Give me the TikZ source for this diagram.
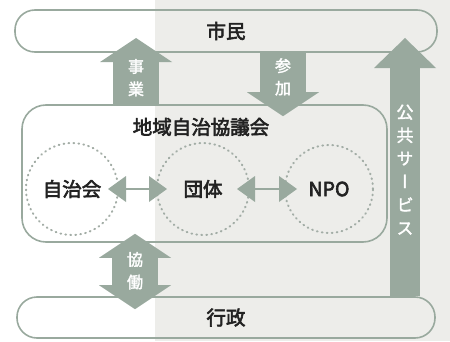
\documentclass[tikz,border=0pt]{standalone}
\usepackage{fontspec}
\newfontfamily\jp[FakeBold=3]{Noto Sans CJK JP}
\newfontfamily\jpv[RawFeature=+vert, FakeBold=2]{Noto Sans CJK JP}
\usetikzlibrary{arrows.meta}
\definecolor{sagegreen}{HTML}{99A99E}
\definecolor{paper}{HTML}{EDEDEA}
\definecolor{dotgrey}{HTML}{A3ADA6}
\definecolor{inkblack}{HTML}{222222}

\begin{document}
\begin{tikzpicture}[x=1pt, y=1pt,
every node/.style={font=\jp\fontsize{19.5}{24}\selectfont, text=inkblack, inner sep=0pt},
pill/.style={draw=sagegreen, line width=1.6pt, rounded corners=20pt},
ring/.style={draw=dotgrey, circle, line width=2pt, dash pattern=on 0.8pt off 4.2pt, line cap=round, minimum size=92pt},
fat/.style={draw=sagegreen, line width=46pt, ->, >={Triangle[length=24pt, width=72pt, line width=0pt]}},
fatboth/.style={fat, <->},
slim/.style={draw=sagegreen, line width=30pt, ->, >={Triangle[length=30pt, width=62pt, line width=0pt]}},
dbl/.style={draw=sagegreen, line width=2.5pt, <->, >={Triangle[length=18pt, width=26pt, line width=0pt]}},
vtext/.style={font=\jpv\fontsize{16}{22.5}\selectfont, text=white, align=center}]
%================================================================
%	Background
\useasboundingbox (0,0) rectangle (450,341);
\fill[paper] (155,0) rectangle (450,341);

%================================================================
%	Boxes
\node[pill, minimum width=422pt, minimum height=42pt] (shimin) at (226,310) {市民};
\node[pill, minimum width=365pt, minimum height=137pt, rounded corners=24pt] (kyogikai) at (204.5,167.5) {};
\node[pill, minimum width=418pt, minimum height=41pt] (gyosei) at (226,23.5) {行政};
\node (title) at (201,214) {地域自治協議会};

%----------------------------------------------------------------
\node[ring] (jichikai) at (72,152) {自治会};
\node[ring] (dantai) at (203,152) {団体};
\node[ring, minimum size=88pt] (npo) at (329,152) {NPO};

%================================================================
%	Lines
\draw[dbl, shorten <=-11pt, shorten >=-11pt] (jichikai.east) -- (dantai.west);
\draw[dbl, shorten <=-13pt, shorten >=-13pt] (dantai.east) -- (npo.west);

\draw[fat] (kyogikai.north -| 136,0) -- ([yshift=-7pt]shimin.center -| 136,0)
  node[vtext, pos=0.4] (jigyo) {事\\業};
\draw[fat] (shimin.south -| 283,0) -- ([yshift=-12pt]kyogikai.north -| 283,0)
  node[vtext, pos=0.38] (sanka) {参\\加};
\draw[fatboth] ([yshift=9pt]kyogikai.south -| 135,0) -- ([yshift=-13pt]gyosei.north -| 135,0)
  node[vtext, pos=0.49] (kyodo) {協\\働};
\draw[slim] (gyosei.north -| 405,0) -- ([yshift=-7pt]shimin.center -| 405,0)
  node[vtext, pos=0.49, font=\jpv\fontsize{17}{23.2}\selectfont] (koukyou) {公\\共\\サ\\ー\\ビ\\ス};
%================================================================
\end{tikzpicture}
\end{document}
